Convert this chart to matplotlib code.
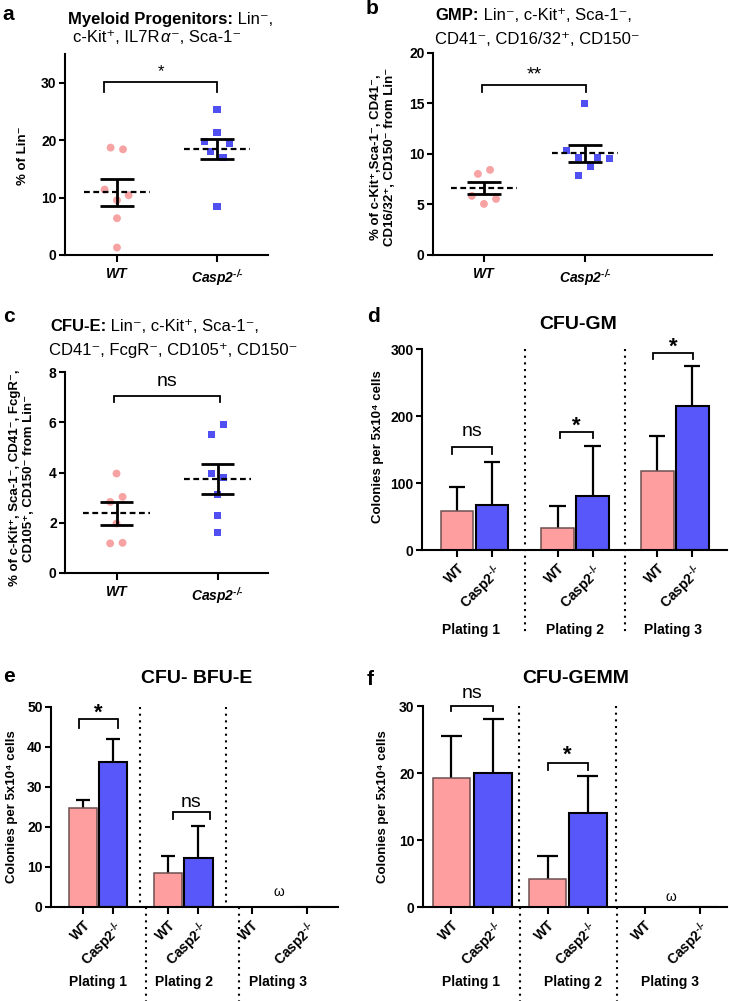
import matplotlib
matplotlib.use('Agg')
import matplotlib.pyplot as plt
from matplotlib.transforms import IdentityTransform
import numpy as np

plt.rcParams['font.family'] = ['Liberation Sans', 'DejaVu Sans']
plt.rcParams['mathtext.fontset'] = 'custom'
plt.rcParams['mathtext.rm'] = 'Liberation Sans'
plt.rcParams['mathtext.it'] = 'Liberation Sans:italic'
plt.rcParams['mathtext.bf'] = 'Liberation Sans:bold'
plt.rcParams['mathtext.bfit'] = 'Liberation Sans:bold:italic'
plt.rcParams['mathtext.sf'] = 'Liberation Sans'

HY = '\u2010'
# ---------------- data ----------------
groups = ['WT', 'Casp2$^{\\mathbfit{' + HY + '/' + HY + '}}$']
# panel a: Myeloid progenitors (% of Lin-)
a_wt = [18.7, 18.4, 11.4, 9.55, 10.4, 6.4, 1.3]
a_ko = [25.3, 21.4, 19.7, 19.5, 17.95, 16.9, 8.4]
a_mean = [10.9, 18.5]
a_sem = [2.3, 1.7]
# panel b: GMP
b_wt = [8.03, 8.43, 5.85, 5.55, 5.06]
b_ko = [14.97, 10.35, 9.69, 9.69, 9.58, 8.76, 7.83]
b_mean = [6.64, 10.08]
b_sem = [0.56, 0.86]
# panel c: CFU-E
c_wt = [3.96, 3.03, 2.83, 1.97, 1.18, 1.2]
c_ko = [5.92, 5.51, 3.96, 3.8, 3.14, 2.3, 1.62]
c_mean = [2.37, 3.75]
c_sem = [0.46, 0.6]
# panels d-f: colonies per 5x10^4 cells, plating 1-3
platings = ['Plating 1', 'Plating 2', 'Plating 3']
d_wt = [58, 33, 118]
d_wt_err = [36, 33, 52]
d_ko = [67, 81, 215]
d_ko_err = [65, 74, 59]
e_wt = [24.6, 8.5, 0]
e_wt_err = [2.2, 4.25, 0]
e_ko = [36.25, 12.1, 0]
e_ko_err = [5.65, 8.15, 0]
f_wt = [19.2, 4.2, 0]
f_wt_err = [6.3, 3.5, 0]
f_ko = [20.0, 14.0, 0]
f_ko_err = [8.1, 5.6, 0]

# ---------------- layout / style ----------------
W, H = 729, 1001
PINK_PT = '#F7A3A3'
BLUE_PT = '#5050F2'
PINK_BAR = '#FF9E9E'
BLUE_BAR = '#5757FA'
MN = '\u207b'   # superscript minus
PL = '\u207a'   # superscript plus

fig = plt.figure(figsize=(W / 100, H / 100), dpi=100)


def px_axes(l, t, r, b):
    return fig.add_axes([l / W, 1 - b / H, (r - l) / W, (b - t) / H])


def style_axes(ax):
    for s in ['top', 'right']:
        ax.spines[s].set_visible(False)
    for s in ['left', 'bottom']:
        ax.spines[s].set_linewidth(1.5)
    ax.tick_params(width=1.5, length=4, direction='out', labelsize=10, pad=2)


def ftext(x, y, s, **kw):
    return fig.text(x, H - y, s, transform=IdentityTransform(), **kw)


def rich(x, y, parts, size, ha='left'):
    rend = fig.canvas.get_renderer()
    texts = [ftext(0, y, s, fontsize=size, fontweight=w, ha='left', va='baseline')
             for s, w in parts]
    widths = [t.get_window_extent(rend).width for t in texts]
    x0 = x - sum(widths) / 2 if ha == 'center' else x
    for t, w in zip(texts, widths):
        t.set_position((x0, H - y))
        x0 += w


def bracket(ax, x1, x2, y, tip, txt, tsize, ty, weight='normal'):
    ax.plot([x1, x1, x2, x2], [tip, y, y, tip], color='black', lw=1.3,
            clip_on=False, solid_joinstyle='miter')
    ax.text((x1 + x2) / 2, ty, txt, ha='center', va='center', fontsize=tsize,
            clip_on=False, fontweight=weight)


def scatter_panel(ax, wt, wt_dx, ko, ko_dx, means, sems, yticks, ylim):
    ax.scatter(np.array(wt_dx), wt, marker='o', s=32, color=PINK_PT,
               edgecolors='none', zorder=2, clip_on=False)
    ax.scatter(1 + np.array(ko_dx), ko, marker='s', s=26, color=BLUE_PT,
               edgecolors='none', zorder=2, clip_on=False)
    for i, (m, s) in enumerate(zip(means, sems)):
        ax.hlines(m, i - 0.33, i + 0.33, colors='black', lw=1.6,
                  linestyles=(0, (2.6, 1.6)), zorder=3)
        ax.vlines(i, m - s, m + s, colors='black', lw=2, zorder=3)
        ax.hlines([m - s, m + s], i - 0.167, i + 0.167, colors='black', lw=2, zorder=3)
    ax.set_ylim(*ylim)
    ax.set_yticks(yticks, [str(v) for v in yticks], fontweight='bold')
    ax.set_xticks([0, 1], groups, fontweight='bold', fontstyle='italic', fontsize=10.5)
    style_axes(ax)
    ax.tick_params(axis='x', length=5, pad=4)


def bar_panel(ax, x, width, wt, wt_err, ko, ko_err, yticks, ylim, xlim,
              seps_top, seps_bot, capw):
    xw = np.array(x[0::2])
    xk = np.array(x[1::2])
    ax.bar(xw, wt, width=width, color=PINK_BAR, edgecolor='#6e5050', lw=1.1, zorder=2)
    ax.bar(xk, ko, width=width, color=BLUE_BAR, edgecolor='black', lw=1.5, zorder=2)
    for xs, v, e in [(xw, wt, wt_err), (xk, ko, ko_err)]:
        for xi, vi, ei in zip(xs, v, e):
            if ei > 0:
                ax.vlines(xi, vi, vi + ei, colors='black', lw=1.6, zorder=1)
                ax.hlines(vi + ei, xi - capw, xi + capw, colors='black', lw=1.6, zorder=1)
    ax.set_xlim(*xlim)
    ax.set_ylim(*ylim)
    ax.set_yticks(yticks, [str(v) for v in yticks], fontweight='bold')
    labels = []
    for _ in range(3):
        labels += ['WT', 'Casp2$^{\\mathbf{' + HY + '/' + HY + '}}$']
    ax.set_xticks(x, labels, fontweight='bold', fontsize=10, rotation=45,
                  ha='right', rotation_mode='anchor')
    style_axes(ax)
    ax.tick_params(axis='x', length=5, pad=3)
    tr = ax.get_xaxis_transform()
    for s in seps_top:
        ax.plot([s, s], [1.0, 0.0] if seps_bot else [1.0, -0.42], transform=tr,
                color='black', ls=(0, (1, 2.2)), lw=1.5, clip_on=False, zorder=0)
    for s in seps_bot:
        ax.plot([s, s], [0.0, -0.47], transform=tr, color='black',
                ls=(0, (1, 2.2)), lw=1.5, clip_on=False, zorder=0)


YL = 'Colonies per 5x10' + '\u2074' + ' cells'

# ---------------- panel a ----------------
ax = px_axes(65, 54, 268, 255)
ax.set_xlim(-0.52, 1.51)
scatter_panel(ax, a_wt, [-0.064, 0.06, -0.124, 0, 0.116, 0, 0],
              a_ko, [0, 0, -0.123, 0.127, -0.063, 0.06, 0],
              a_mean, a_sem, [0, 10, 20, 30], (0, 35))
bracket(ax, -0.13, 1.0, 30.1, 28.3, '*', 12, 31.9)
ftext(23, 156, '% of Lin' + MN, rotation=90, ha='center', va='center',
      fontsize=9.5, fontweight='bold')

# ---------------- panel b ----------------
ax = px_axes(433, 53, 712, 255)
ax.set_xlim(-0.505, 2.26)
scatter_panel(ax, b_wt, [-0.06, 0.06, -0.12, 0.12, 0],
              b_ko, [0, -0.183, -0.06, 0.127, 0.24, 0.06, -0.06],
              b_mean, b_sem, [0, 5, 10, 15, 20], (0, 20))
bracket(ax, -0.02, 1.01, 16.86, 16.13, '**', 14, 17.8)
ftext(383, 157, '% of c-Kit' + PL + ',Sca-1' + MN + ', CD41' + MN + ',\n'
      'CD16/32' + PL + ', CD150' + MN + ' from Lin' + MN,
      rotation=90, ha='center', va='center', fontsize=9.5, fontweight='bold',
      multialignment='center', linespacing=1.3)

# ---------------- panel c ----------------
ax = px_axes(65, 372, 268, 573)
ax.set_xlim(-0.51, 1.5)
scatter_panel(ax, c_wt, [0, 0.06, -0.063, 0, -0.063, 0.06],
              c_ko, [0.06, -0.063, -0.063, 0.06, 0, 0, 0],
              c_mean, c_sem, [0, 2, 4, 6, 8], (0, 8))
bracket(ax, -0.02, 1.02, 7.03, 6.81, 'ns', 14, 7.62)
ftext(22, 478, '% of c-Kit' + PL + ', Sca-1' + MN + ', CD41' + MN + ', FcgR' + MN + ',\n'
      'CD105' + PL + ', CD150' + MN + ' from Lin' + MN,
      rotation=90, ha='center', va='center', fontsize=9.5, fontweight='bold',
      multialignment='center', linespacing=1.3)

# ---------------- panel d ----------------
ax = px_axes(422, 349, 727, 550)
d_x = [0, 1.0, 2.87, 3.87, 5.72, 6.72]
bar_panel(ax, d_x, 0.94, d_wt, d_wt_err, d_ko, d_ko_err, [0, 100, 200, 300],
          (0, 300), (-1.0, 7.71), [1.94, 4.8], [], 0.23)
bracket(ax, -0.15, 1.0, 153, 144, 'ns', 14, 177)
bracket(ax, 2.95, 3.87, 176.6, 166.6, '*', 16, 185, 'bold')
bracket(ax, 5.6, 6.75, 294.5, 284.6, '*', 16, 303, 'bold')
ftext(378, 447, YL, rotation=90, ha='center',
      va='center', fontsize=9.5, fontweight='bold')
for xp, p in zip([471, 575, 673], platings):
    ftext(xp, 634, p, ha='center', va='baseline', fontsize=10, fontweight='bold')

# ---------------- panel e ----------------
ax = px_axes(51, 706.7, 338, 906.7)
e_x = [0, 1.0, 2.84, 3.85, 5.64, 7.48]
bar_panel(ax, e_x, 0.96, e_wt, e_wt_err, e_ko, e_ko_err, [0, 10, 20, 30, 40, 50],
          (0, 50), (-1.07, 8.52), [1.91, 4.78], [2.11, 5.22], 0.23)
bracket(ax, -0.15, 1.17, 46.9, 44.6, '*', 16, 48.3, 'bold')
bracket(ax, 3.0, 4.23, 23.6, 21.9, 'ns', 14, 26.0)
ax.text(6.54, 3.6, 'ω', ha='center', va='center', fontsize=10)
ftext(12, 807, YL, rotation=90, ha='center',
      va='center', fontsize=9.5, fontweight='bold')
for xp, p in zip([98, 184, 278], platings):
    ftext(xp, 986, p, ha='center', va='baseline', fontsize=10, fontweight='bold')

# ---------------- panel f ----------------
ax = px_axes(423, 706, 727, 907.3)
f_x = [0, 1.04, 2.4, 3.4, 4.82, 6.19]
bar_panel(ax, f_x, 0.94, f_wt, f_wt_err, f_ko, f_ko_err, [0, 10, 20, 30],
          (0, 30), (-0.71, 6.875), [1.68, 4.1], [1.71, 4.125], 0.26)
bracket(ax, 0.0, 1.04, 30.05, 29.3, 'ns', 14, 31.9)
bracket(ax, 2.4, 3.4, 21.45, 20.5, '*', 16, 22.6, 'bold')
ax.text(5.48, 1.6, 'ω', ha='center', va='center', fontsize=10)
ftext(383, 807, YL, rotation=90, ha='center',
      va='center', fontsize=9.5, fontweight='bold')
for xp, p in zip([471, 573, 670], platings):
    ftext(xp, 986, p, ha='center', va='baseline', fontsize=10, fontweight='bold')

# ---------------- titles and letters ----------------
for x, y, l in [(2, 20, 'a'), (366, 14, 'b'), (3, 322, 'c'), (367, 322, 'd'),
                (3, 682, 'e'), (367, 685, 'f')]:
    ftext(x, y, l, fontsize=15, fontweight='bold', ha='left', va='baseline')

rich(68, 24, [('Myeloid Progenitors:', 'bold'), (' Lin' + MN + ',', 'normal')], 12)
rich(73, 42, [('c-Kit' + PL + ', IL7R', 'normal'), ('$\\alpha$', 'normal'),
              (MN + ', Sca-1' + MN, 'normal')], 12)
rich(534, 20, [('GMP:', 'bold'), (' Lin' + MN + ', c-Kit' + PL + ', Sca-1' + MN + ',', 'normal')], 12, ha='center')
rich(537, 44, [('CD41' + MN + ', CD16/32' + PL + ', CD150' + MN, 'normal')], 12, ha='center')
rich(50, 331, [('CFU-E:', 'bold'), (' Lin' + MN + ', c-Kit' + PL + ', Sca-1' + MN + ',', 'normal')], 12)
rich(49, 355, [('CD41' + MN + ', FcgR' + MN + ', CD105' + PL + ', CD150' + MN, 'normal')], 12)

ftext(578, 329, 'CFU-GM', ha='center', va='baseline', fontsize=14, fontweight='bold')
ftext(197, 683, 'CFU- BFU-E', ha='center', va='baseline', fontsize=14, fontweight='bold')
ftext(576, 683, 'CFU-GEMM', ha='center', va='baseline', fontsize=14, fontweight='bold')

fig.savefig('out.png', dpi=100)
